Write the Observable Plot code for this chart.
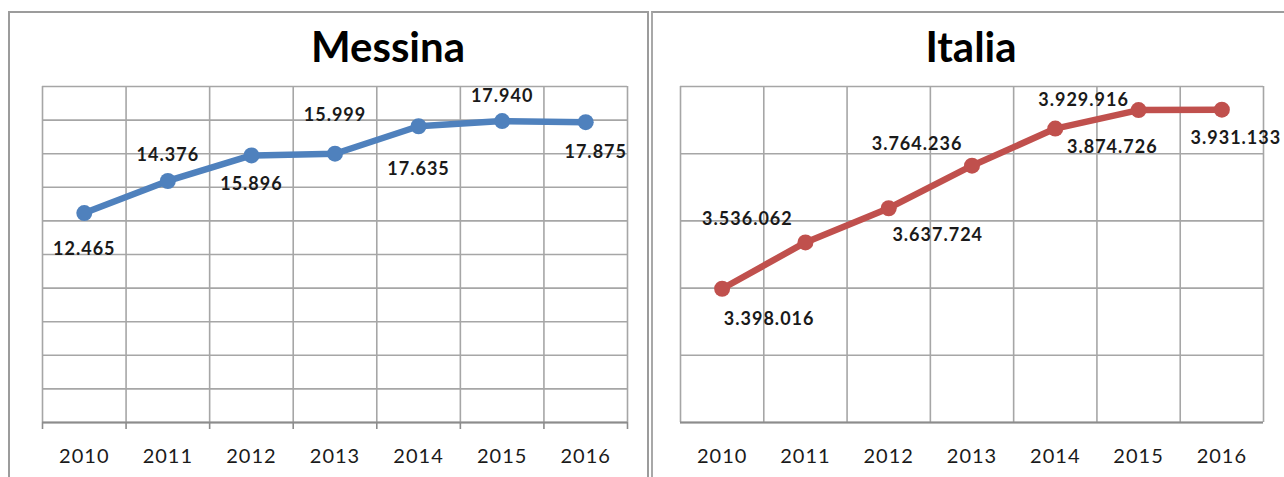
<!DOCTYPE html>
<html><head><meta charset="utf-8">
<script src="https://cdn.jsdelivr.net/npm/d3@7"></script>
<script src="https://cdn.jsdelivr.net/npm/@observablehq/plot@0.6"></script>
<style>
body{margin:0;background:#fff;width:1284px;height:477px;overflow:hidden;position:relative;font-family:Lato,sans-serif;}
.panel{position:absolute;box-sizing:border-box;}
#p1{left:8px;top:11px;width:641px;height:490px;border:2px solid #9c9c9c;border-bottom:none;}
#p2{left:651px;top:11px;width:700px;height:490px;border-left:2px solid #a8a8a8;border-top:2px solid #9c9c9c;}
.title{position:absolute;top:25px;font-weight:700;font-size:42px;color:#000;transform:translateX(-50%);white-space:nowrap;line-height:1;font-family:Lato,sans-serif;}
.chart{position:absolute;top:0;}
.chart svg text{letter-spacing:1px;}
</style></head><body>
<div class="panel" id="p1"></div>
<div class="panel" id="p2"></div>
<div class="title" style="left:388px">Messina</div>
<div class="title" style="left:971px">Italia</div>
<div class="chart" id="c1" style="left:0px"></div>
<div class="chart" id="c2" style="left:652px"></div>
<script>
const years = [2010, 2011, 2012, 2013, 2014, 2015, 2016];
const messina = [12465, 14376, 15896, 15999, 17635, 17940, 17875];
const italia = [3398016, 3536062, 3637724, 3764236, 3874726, 3929916, 3931133];
const titles = ["Messina", "Italia"];

// label placement (Excel-style data label offsets, in pixels)
const messinaLabelDx = [0, 0, 0, 0, 0, 0, 10];
const messinaLabelDy = [36, -26, 29, -38, 43, -25, 30];
const italiaLabelDx = [47, -58, 49, -55, 57, -55, 14];
const italiaLabelDy = [30, -23, 27, -21, 19, -10, 29];

const it = d3.formatLocale({decimal: ",", thousands: ".", grouping: [3], currency: ["€", ""]});
const fmt = it.format(",d");

function chart({values, yDomain, yStep, color, dxs, dys, width, marginLeft, ticks}) {
  const data = years.map((y, i) => ({year: y, value: values[i], label: fmt(values[i])}));
  const bounds = years.map(y => y - 0.5).concat([years[years.length - 1] + 0.5]);
  const gridColor = "#a6a6a6";
  const marks = [
    Plot.gridY(d3.range(yDomain[0], yDomain[1] + yStep / 2, yStep), {stroke: gridColor, strokeOpacity: 1, strokeWidth: 1.6}),
    Plot.gridX(bounds, {stroke: gridColor, strokeOpacity: 1, strokeWidth: 1.6}),
    Plot.ruleY([yDomain[0]], {stroke: "#8c8c8c", strokeWidth: 2}),
    Plot.axisX(years, {tickSize: 0, tickPadding: 26, tickFormat: d => String(d), fontSize: 20, fill: "#1a1a1a", label: null}),
    Plot.line(data, {x: "year", y: "value", stroke: color, strokeWidth: 6.5, strokeLinecap: "round", strokeLinejoin: "round"}),
    Plot.dot(data, {x: "year", y: "value", r: 8, fill: color, stroke: "none"}),
    ...data.map((d, i) => Plot.text([d], {x: "year", y: "value", text: "label", dx: dxs[i], dy: dys[i], fontSize: 18, fontWeight: 700, fill: "#1a1a1a"}))
  ];
  if (ticks) marks.push(Plot.axisX(bounds, {tickSize: 7, tickFormat: () => "", stroke: "#8c8c8c", strokeWidth: 1.6, label: null}));
  return Plot.plot({
    width, height: 477,
    marginLeft, marginRight: 21, marginTop: 86, marginBottom: 55,
    x: {domain: [2009.5, 2016.5], label: null},
    y: {domain: yDomain, axis: null, label: null},
    style: {fontFamily: "Lato, sans-serif", background: "transparent", overflow: "visible"},
    marks
  });
}

document.getElementById("c1").append(chart({
  values: messina, yDomain: [0, 20000], yStep: 2000, color: "#4f81bd",
  dxs: messinaLabelDx, dys: messinaLabelDy, width: 648, marginLeft: 42, ticks: true
}));
document.getElementById("c2").append(chart({
  values: italia, yDomain: [3000000, 4000000], yStep: 200000, color: "#c0504d",
  dxs: italiaLabelDx, dys: italiaLabelDy, width: 632, marginLeft: 28, ticks: false
}));
</script>
</body></html>
